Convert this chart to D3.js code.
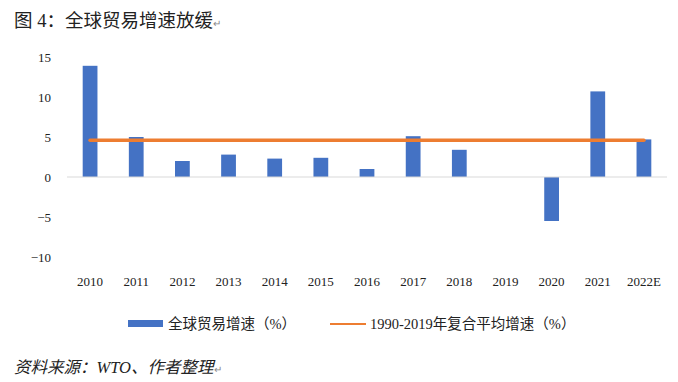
<!DOCTYPE html>
<html><head><meta charset="utf-8">
<script src="https://cdn.jsdelivr.net/npm/d3@7"></script>
<style>
html,body{margin:0;padding:0;background:#fff;}
svg{display:block;}
</style></head>
<body>
<svg id="chart" width="678" height="382"></svg>
<script>
const categories = ["2010","2011","2012","2013","2014","2015","2016","2017","2018","2019","2020","2021","2022E"];
const tradeGrowth = [13.9, 5.0, 2.0, 2.8, 2.3, 2.4, 1.0, 5.1, 3.4, 0.0, -5.5, 10.7, 4.7];
const avgGrowth = 4.6;
const yTicks = [15, 10, 5, 0, -5, -10];
const seriesNames = ["全球贸易增速（%）", "1990-2019年复合平均增速（%）"];
const titleText = "图 4：全球贸易增速放缓";
const sourceText = "资料来源：WTO、作者整理";

const svg = d3.select("#chart");
const serif = "'Liberation Serif','Noto Sans CJK SC',serif";
const cjk = "'Liberation Serif','Noto Sans CJK SC',sans-serif";

const x = d3.scaleBand().domain(categories).range([67, 667]).paddingInner(0.68).paddingOuter(0.34);
const y = d3.scaleLinear().domain([-10, 15]).range([257, 57]);

// title
const t = svg.append("text").attr("x", 14).attr("y", 26.5)
  .attr("font-family", cjk).attr("font-size", 18.5).attr("fill", "#222");
t.append("tspan").text(titleText);
t.append("tspan").attr("font-size", 10).attr("fill", "#888").text("↵");

// y axis labels
const yAxis = d3.axisLeft(y).tickValues(yTicks).tickSize(0).tickPadding(0);
const gy = svg.append("g").attr("transform", "translate(51,0)").call(yAxis);
gy.select(".domain").remove();
gy.selectAll("text").attr("font-family", serif).attr("font-size", 13).attr("fill", "#222").attr("dy", "0.35em");

// bars
svg.append("g").selectAll("rect").data(categories).join("rect")
  .attr("x", d => x(d))
  .attr("width", x.bandwidth())
  .attr("y", (d, i) => y(Math.max(0, tradeGrowth[i])))
  .attr("height", (d, i) => Math.abs(y(tradeGrowth[i]) - y(0)))
  .attr("fill", "#4472C4");

// zero axis line
svg.append("line").attr("x1", 67).attr("x2", 667).attr("y1", y(0)).attr("y2", y(0))
  .attr("stroke", "#d9d9d9").attr("stroke-width", 1);

// average line
svg.append("line")
  .attr("x1", x(categories[0]) + x.bandwidth() / 2)
  .attr("x2", x(categories[categories.length - 1]) + x.bandwidth() / 2)
  .attr("y1", y(avgGrowth)).attr("y2", y(avgGrowth))
  .attr("stroke", "#ED7D31").attr("stroke-width", 3.5).attr("stroke-linecap", "round");

// x labels
const xAxis = d3.axisBottom(x).tickSize(0).tickPadding(0);
const gx = svg.append("g").attr("transform", "translate(0,277)").call(xAxis);
gx.select(".domain").remove();
gx.selectAll("text").attr("font-family", serif).attr("font-size", 13).attr("fill", "#222").attr("dy", "0.71em");

// legend
const lg = svg.append("g");
lg.append("rect").attr("x", 128).attr("y", 320).attr("width", 35).attr("height", 7).attr("fill", "#4472C4");
lg.append("text").attr("x", 168).attr("y", 329).attr("font-family", cjk).attr("font-size", 14.5).attr("fill", "#222").text(seriesNames[0]);
lg.append("line").attr("x1", 330).attr("x2", 366).attr("y1", 324).attr("y2", 324).attr("stroke", "#ED7D31").attr("stroke-width", 2);
lg.append("text").attr("x", 370).attr("y", 329).attr("font-family", cjk).attr("font-size", 14.5).attr("fill", "#222").text(seriesNames[1]);

// source
const s = svg.append("text").attr("x", 14).attr("y", 372.5)
  .attr("font-family", cjk).attr("font-size", 16.5).attr("font-style", "italic").attr("fill", "#222");
s.append("tspan").text(sourceText);
s.append("tspan").attr("font-size", 10).attr("fill", "#888").attr("font-style", "normal").text("↵");
</script>
</body></html>
